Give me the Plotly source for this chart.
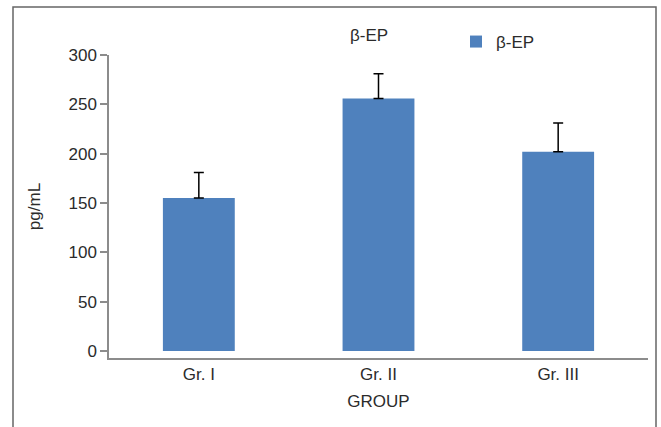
import plotly.graph_objects as go

groups = ["Gr. I", "Gr. II", "Gr. III"]
values = [155, 256, 202]
errors = [26, 25, 29]
series_name = "β-EP"
y_ticks = [0, 50, 100, 150, 200, 250, 300]

W, H = 661, 427
L, R, T, B = 109, 13, 55, 69
pw = W - L - R
ph = H - T - B

def px_x(p):
    return (p - L) / pw

def px_y(p):
    return (H - B - p) / ph

font_family = "Liberation Sans, Arial, sans-serif"
txt = "#2b2b2b"
fs = 17

fig = go.Figure()
fig.add_trace(go.Bar(
    x=groups, y=values, name=series_name,
    marker=dict(color="#4F81BD", line=dict(width=0)),
    width=0.4,
    error_y=dict(type="data", symmetric=False, array=errors,
                 arrayminus=[0] * len(errors), color="#000000",
                 thickness=1.5, width=5),
    showlegend=True,
))

fig.update_layout(
    width=W, height=H,
    margin=dict(l=L, r=R, t=T, b=B),
    paper_bgcolor="white", plot_bgcolor="white",
    font=dict(family=font_family, size=fs, color=txt),
    title=dict(text="β-EP", x=px_x(369), xanchor="center", xref="paper",
               y=1 - 35 / H, yref="container", yanchor="middle",
               font=dict(size=fs, color=txt)),
    legend=dict(x=px_x(456), y=px_y(42), xanchor="left", yanchor="middle",
                bgcolor="rgba(0,0,0,0)", font=dict(size=fs, color=txt),
                itemwidth=30),
    bargap=0.6,
)

fig.update_xaxes(
    range=[-0.5, 2.5], showline=True, linecolor="#8c8c8c", linewidth=2,
    ticks="", showgrid=False, zeroline=False,
    tickfont=dict(size=fs, color=txt),
    title=dict(text="GROUP", font=dict(size=fs, color=txt), standoff=12),
)
fig.update_yaxes(
    range=[-7, 300], tickvals=y_ticks, showline=True, linecolor="#8c8c8c",
    linewidth=1.5, ticks="outside", ticklen=7, tickcolor="#8c8c8c",
    tickwidth=2, showgrid=False, zeroline=False,
    tickfont=dict(size=fs, color=txt),
    title=dict(text="pg/mL", font=dict(size=fs, color=txt), standoff=24),
)

fig.add_shape(type="rect", xref="paper", yref="paper",
              x0=px_x(13), x1=px_x(656), y0=px_y(440), y1=px_y(7),
              line=dict(color="#666666", width=1.5), fillcolor="rgba(0,0,0,0)",
              layer="below")

fig.write_html("out.html", config={"displayModeBar": False},
               post_script="document.body.style.margin='0';document.body.style.overflow='hidden';")
